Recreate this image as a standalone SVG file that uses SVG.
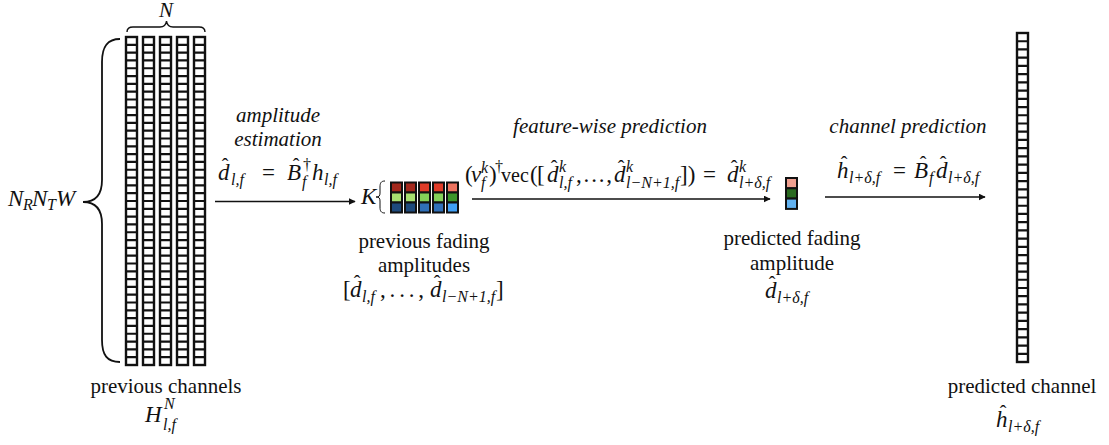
<svg xmlns="http://www.w3.org/2000/svg" xmlns:xlink="http://www.w3.org/1999/xlink" width="1109" height="445" viewBox="0 0 1109 445">
<style>
text{font-family:"Liberation Serif","DejaVu Serif",serif;fill:#111}
.t{font-size:21px}
.ti{font-size:21px;font-style:italic}
.m{font-size:23px;font-style:italic}
.s{font-size:16px}
.r{font-style:normal}
.hat{font-size:20px;font-style:normal}
.dots{font-size:23px;font-style:normal}
.c{text-anchor:middle}
.cell{stroke:#111;stroke-width:2}
.arrow{stroke:#111;stroke-width:1.5;fill:none;marker-end:url(#ah)}
.brace{stroke:#111;fill:none}
</style>
<defs>
<marker id="ah" viewBox="0 0 10 10" refX="9" refY="5" markerWidth="7" markerHeight="7" markerUnits="userSpaceOnUse" orient="auto">
<path d="M0,0 L10,5 L0,10 z" fill="#111"/>
</marker>
<g id="lcol">
<rect x="0" y="0" width="11" height="328" fill="#fff" stroke="#111" stroke-width="2.4"/>
<path stroke="#111" stroke-width="2.2" d="M0,7.81h11M0,15.62h11M0,23.43h11M0,31.24h11M0,39.05h11M0,46.86h11M0,54.67h11M0,62.48h11M0,70.29h11M0,78.1h11M0,85.9h11M0,93.71h11M0,101.52h11M0,109.33h11M0,117.14h11M0,124.95h11M0,132.76h11M0,140.57h11M0,148.38h11M0,156.19h11M0,164h11M0,171.81h11M0,179.62h11M0,187.43h11M0,195.24h11M0,203.05h11M0,210.86h11M0,218.67h11M0,226.48h11M0,234.29h11M0,242.1h11M0,249.9h11M0,257.71h11M0,265.52h11M0,273.33h11M0,281.14h11M0,288.95h11M0,296.76h11M0,304.57h11M0,312.38h11M0,320.19h11"/>
</g>
<g id="rcol">
<rect x="0" y="0" width="11" height="329" fill="#fff" stroke="#111" stroke-width="2.4"/>
<path stroke="#111" stroke-width="2.2" d="M0,8.23h11M0,16.45h11M0,24.68h11M0,32.9h11M0,41.13h11M0,49.35h11M0,57.58h11M0,65.8h11M0,74.03h11M0,82.25h11M0,90.48h11M0,98.7h11M0,106.93h11M0,115.15h11M0,123.38h11M0,131.6h11M0,139.83h11M0,148.05h11M0,156.28h11M0,164.5h11M0,172.73h11M0,180.95h11M0,189.18h11M0,197.4h11M0,205.63h11M0,213.85h11M0,222.08h11M0,230.3h11M0,238.53h11M0,246.75h11M0,254.98h11M0,263.2h11M0,271.43h11M0,279.65h11M0,287.88h11M0,296.1h11M0,304.33h11M0,312.55h11M0,320.78h11"/>
</g>
</defs>
<rect width="1109" height="445" fill="#fff"/>

<g id="previous-channels">
<use xlink:href="#lcol" x="126" y="37"/>
<use xlink:href="#lcol" x="143" y="37"/>
<use xlink:href="#lcol" x="160" y="37"/>
<use xlink:href="#lcol" x="177" y="37"/>
<use xlink:href="#lcol" x="194" y="37"/>
<path class="brace" stroke-width="1.4" d="M127,32 C127,28 129,27 133,27 L160,27 C164,27 166,25 166.5,21 C167,25 169,27 173,27 L199,27 C203,27 205,28 205,32"/>
<text class="ti" x="166" y="17" text-anchor="middle" font-size="20">N</text>
<path class="brace" stroke-width="1.8" d="M120,39 C107,39 102,47 102,62 L102,180 C102,194 96,202 83,202 C96,202 102,210 102,224 L102,340 C102,355 107,362 120,362"/>
<text class="m" font-size="21"><tspan x="8" y="206">N</tspan><tspan class="s" font-size="14" x="23" y="210">R</tspan><tspan x="32" y="206">N</tspan><tspan class="s" font-size="14" x="47" y="210">T</tspan><tspan x="56" y="206">W</tspan></text>
<text class="t c" x="166" y="393">previous channels</text>
<text class="m"><tspan x="145" y="422">H</tspan><tspan class="s" x="164" y="409">N</tspan><tspan class="s" x="163" y="430">l,f</tspan></text>
</g>

<g id="previous-fading-amplitudes">
<text class="m" x="361" y="204" font-size="19">K</text>
<path class="brace" stroke-width="1" d="M385,181 C381,181 380,183 380,187 L380,193 C380,196 379,197 376,197 C379,197 380,198 380,201 L380,207 C380,211 381,213 385,213"/>
<rect class="cell" x="391" y="182.5" width="11" height="10" fill="#a3281c"/>
<rect class="cell" x="405" y="182.5" width="11" height="10" fill="#a3281c"/>
<rect class="cell" x="419" y="182.5" width="11" height="10" fill="#e03c28"/>
<rect class="cell" x="433" y="182.5" width="11" height="10" fill="#e03c28"/>
<rect class="cell" x="447" y="182.5" width="11" height="10" fill="#ee7460"/>
<rect class="cell" x="391" y="192.5" width="11" height="10" fill="#a8e070"/>
<rect class="cell" x="405" y="192.5" width="11" height="10" fill="#a8e070"/>
<rect class="cell" x="419" y="192.5" width="11" height="10" fill="#84d058"/>
<rect class="cell" x="433" y="192.5" width="11" height="10" fill="#84d058"/>
<rect class="cell" x="447" y="192.5" width="11" height="10" fill="#3c962a"/>
<rect class="cell" x="391" y="202.5" width="11" height="10" fill="#1e4a7c"/>
<rect class="cell" x="405" y="202.5" width="11" height="10" fill="#1e4a7c"/>
<rect class="cell" x="419" y="202.5" width="11" height="10" fill="#3070b8"/>
<rect class="cell" x="433" y="202.5" width="11" height="10" fill="#3070b8"/>
<rect class="cell" x="447" y="202.5" width="11" height="10" fill="#40a0f6"/>
<text class="t c" x="424" y="248">previous fading</text>
<text class="t c" x="424" y="272">amplitudes</text>
<text class="m"><tspan class="r" x="343" y="297">[</tspan><tspan x="350" y="297">d</tspan><tspan class="hat" x="353.7" y="290">ˆ</tspan><tspan class="s" x="362" y="302">l,f</tspan></text>
<text class="dots" x="380" y="297" textLength="44" lengthAdjust="spacing">, . . . ,</text>
<text class="m"><tspan x="430" y="297">d</tspan><tspan class="hat" x="433.7" y="290">ˆ</tspan><tspan class="s" x="442" y="302">l−N+1,f</tspan><tspan class="r" x="496" y="297">]</tspan></text>
</g>

<g id="predicted-fading-amplitude">
<rect class="cell" x="786" y="178" width="11" height="10.3" fill="#f0a090"/>
<rect class="cell" x="786" y="188.3" width="11" height="10.3" fill="#2a6a20"/>
<rect class="cell" x="786" y="198.6" width="11" height="10.3" fill="#62b2f0"/>
<text class="t c" x="792" y="245">predicted fading</text>
<text class="t c" x="792" y="270">amplitude</text>
<text class="m"><tspan x="765" y="298">d</tspan><tspan class="hat" x="768.7" y="291">ˆ</tspan><tspan class="s" x="777" y="303">l+δ,f</tspan></text>
</g>

<g id="predicted-channel">
<use xlink:href="#rcol" x="1017" y="33"/>
<text class="t c" x="1022" y="393">predicted channel</text>
<text class="m"><tspan x="996" y="427">h</tspan><tspan class="hat" x="999.7" y="420">ˆ</tspan><tspan class="s" x="1008" y="432">l+δ,f</tspan></text>
</g>

<g id="connectors">
<line class="arrow" x1="215" y1="201.5" x2="355" y2="201.5"/>
<line class="arrow" x1="472" y1="199" x2="770" y2="199"/>
<line class="arrow" x1="825" y1="197" x2="985" y2="197"/>
</g>

<g id="labels">
<text class="ti c" x="278" y="122">amplitude</text>
<text class="ti c" x="278" y="146">estimation</text>
<text class="m"><tspan x="218" y="180">d</tspan><tspan class="hat" x="221.7" y="173">ˆ</tspan><tspan class="s" x="231" y="185">l,f</tspan><tspan class="r" x="262" y="180">=</tspan><tspan x="287" y="180">B</tspan><tspan class="hat" x="292.7" y="173">ˆ</tspan><tspan class="s r" x="303" y="170">†</tspan><tspan class="s" x="302" y="187">f</tspan><tspan x="312" y="180">h</tspan><tspan class="s" x="324" y="185">l,f</tspan></text>

<text class="ti c" x="610" y="133" font-size="22">feature-wise prediction</text>
<text class="m"><tspan class="r" x="465" y="182">(</tspan><tspan x="471" y="182">v</tspan><tspan class="s" x="481" y="173">k</tspan><tspan class="s" x="481" y="188">f</tspan><tspan class="r" x="489" y="182">)</tspan><tspan class="s r" x="495" y="172">†</tspan><tspan class="r" x="501" y="182" font-size="20">vec</tspan><tspan class="r" x="530" y="182">(</tspan><tspan class="r" x="537" y="182">[</tspan><tspan x="547" y="182">d</tspan><tspan class="hat" x="550.7" y="175">ˆ</tspan><tspan class="s" x="559" y="172">k</tspan><tspan class="s" x="559" y="188">l,f</tspan></text>
<text class="dots" x="576" y="182" textLength="36" lengthAdjust="spacing">, . . . ,</text>
<text class="m"><tspan x="614" y="182">d</tspan><tspan class="hat" x="617.7" y="175">ˆ</tspan><tspan class="s" x="626" y="172">k</tspan><tspan class="s" x="626" y="188">l−N+1,f</tspan><tspan class="r" x="680" y="182">])</tspan><tspan class="r" x="703" y="182">=</tspan><tspan x="727" y="182">d</tspan><tspan class="hat" x="730.7" y="175">ˆ</tspan><tspan class="s" x="739" y="172">k</tspan><tspan class="s" x="739" y="188">l+δ,f</tspan></text>

<text class="ti c" x="908" y="133">channel prediction</text>
<text class="m"><tspan x="837" y="178">h</tspan><tspan class="hat" x="840.7" y="171">ˆ</tspan><tspan class="s" x="849" y="183">l+δ,f</tspan><tspan class="r" x="893" y="178">=</tspan><tspan x="914" y="178">B</tspan><tspan class="hat" x="919.7" y="171">ˆ</tspan><tspan class="s" x="929" y="183">f</tspan><tspan x="936" y="178">d</tspan><tspan class="hat" x="939.7" y="171">ˆ</tspan><tspan class="s" x="948" y="183">l+δ,f</tspan></text>
</g>
</svg>
